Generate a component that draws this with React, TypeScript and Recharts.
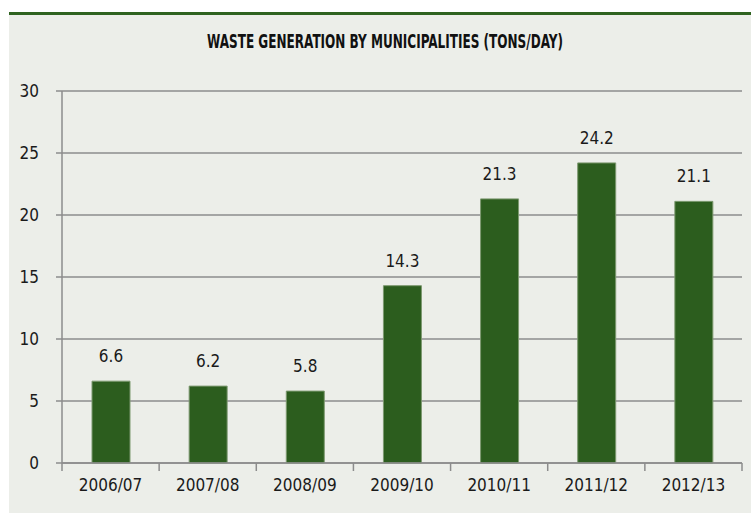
import { Bar, BarChart, CartesianGrid, LabelList, XAxis, YAxis } from "recharts"

const years = ["2006/07", "2007/08", "2008/09", "2009/10", "2010/11", "2011/12", "2012/13"]
const tonsPerDay = [6.6, 6.2, 5.8, 14.3, 21.3, 24.2, 21.1]
const yTicks = [0, 5, 10, 15, 20, 25, 30]

const data = years.map((name, i) => ({ name, value: tonsPerDay[i] }))

const FONT = '"Liberation Sans Narrow", "DejaVu Sans Condensed", "Roboto Condensed", sans-serif'
const GRID = "#8c8c8c"

// category tick: label in the middle, tick mark on the left band edge (and right edge for the last one)
const BandTick = (props: any) => {
  const { x, y, payload, index } = props
  const half = payload.offset ?? 48.5
  const last = index === years.length - 1
  return (
    <g>
      <line x1={x - half} x2={x - half} y1={y - 8} y2={y} stroke={GRID} strokeWidth={1.5} />
      {last && <line x1={x + half} x2={x + half} y1={y - 8} y2={y} stroke={GRID} strokeWidth={1.5} />}
      <text x={x} y={y + 20} textAnchor="middle" fontSize={17} fill="#1a1a1a" fontFamily={FONT}>
        {payload.value}
      </text>
    </g>
  )
}

export default function App() {
  return (
    <div style={{ position: "absolute", left: 0, top: 0, width: 751, height: 515, background: "#fff", fontFamily: FONT }}>
      <div style={{ position: "absolute", left: 9, top: 12, width: 742, height: 3, background: "#2f6320" }} />
      <div style={{ position: "absolute", left: 9, top: 15, width: 742, height: 498, background: "#eceee9" }}>
        <BarChart
          width={742}
          height={498}
          data={data}
          margin={{ top: 76, right: 9, bottom: 20, left: 0 }}
          style={{ position: "absolute", left: 0, top: 0 }}
        >
          <text
            x={376}
            y={33}
            textAnchor="middle"
            textLength={356}
            lengthAdjust="spacingAndGlyphs"
            fontSize={20}
            fontWeight={700}
            fill="#111"
            fontFamily={FONT}
          >
            WASTE GENERATION BY MUNICIPALITIES (TONS/DAY)
          </text>
          <CartesianGrid vertical={false} stroke={GRID} strokeWidth={1.5} />
          <YAxis
            width={53}
            domain={[0, 30]}
            ticks={yTicks}
            interval={0}
            axisLine={{ stroke: GRID, strokeWidth: 1.5 }}
            tickLine={{ stroke: GRID, strokeWidth: 1.5 }}
            tickSize={6}
            tickMargin={17}
            tick={{ fontSize: 17, fill: "#1a1a1a", fontFamily: FONT }}
          />
          <XAxis
            dataKey="name"
            height={30}
            interval={0}
            axisLine={{ stroke: GRID, strokeWidth: 1.5 }}
            tickLine={false}
            tick={<BandTick />}
          />
          <Bar dataKey="value" fill="#2c5d1e" stroke="#7d9970" strokeWidth={1} barSize={38} isAnimationActive={false}>
            <LabelList dataKey="value" position="top" offset={19} fontSize={17} fill="#1a1a1a" fontFamily={FONT} />
          </Bar>
        </BarChart>
      </div>
    </div>
  )
}
